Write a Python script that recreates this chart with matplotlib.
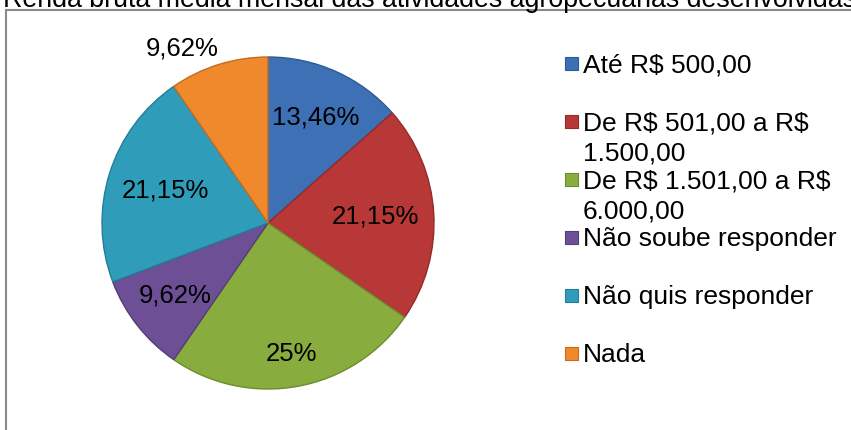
import matplotlib
matplotlib.use('Agg')
import matplotlib.pyplot as plt
import matplotlib.patches as mpatches
import numpy as np

plt.rcParams['font.family'] = ['Liberation Sans', 'DejaVu Sans']
plt.rcParams['text.parse_math'] = False

# dados
categorias = ['Até R$ 500,00',
              'De R$ 501,00 a R$\n1.500,00',
              'De R$ 1.501,00 a R$\n6.000,00',
              'Não soube responder',
              'Não quis responder',
              'Nada']
valores = [13.46, 21.15, 25.0, 9.62, 21.15, 9.62]
rotulos = ['13,46%', '21,15%', '25%', '9,62%', '21,15%', '9,62%']
cores = ['#3D70B5', '#B73836', '#89AC3E', '#6C4F95', '#2F9DBA', '#F0892C']
bordas = ['#2E5A94', '#922B29', '#6E8C2F', '#553D78', '#237E96', '#C46C1F']

W, H = 851, 430
fig = plt.figure(figsize=(W / 100, H / 100), dpi=100)

# moldura (cortada a direita e embaixo)
fig.patches.append(mpatches.Rectangle((6 / W, -0.1), 1.2, (H - 10) / H + 0.1,
                                      transform=fig.transFigure, fill=False,
                                      edgecolor='#8a8a8a', linewidth=1.5))

# titulo (parcialmente cortado no topo)
fig.text(3 / W, (H - 7) / H, 'Renda bruta média mensal das atividades agropecuárias desenvolvidas',
         fontsize=19.3, va='baseline', ha='left')

# pizza
cx, cy, r = 268, 223, 166
lim = 1.02
ax = fig.add_axes([(cx - r * lim) / W, (H - cy - r * lim) / H, 2 * r * lim / W, 2 * r * lim / H])
wedges, _ = ax.pie(valores, colors=cores, startangle=90, counterclock=False,
                   wedgeprops=dict(linewidth=1.0))
for w, ec in zip(wedges, bordas):
    w.set_edgecolor(ec)
ax.set_xlim(-lim, lim)
ax.set_ylim(-lim, lim)
ax.set_aspect('equal')
ax.axis('off')

dist = [0.70, 0.65, 0.80, 0.71, 0.65, 1.17]
desvio = [0, 0, 0, 0, 0, 9]
for w, txt, d, dv in zip(wedges, rotulos, dist, desvio):
    ang = np.deg2rad((w.theta1 + w.theta2) / 2 + dv)
    ax.text(d * np.cos(ang), d * np.sin(ang), txt, fontsize=18.5,
            ha='center', va='center', clip_on=False)

# legenda
y0 = 72
passo = 58
entre_linhas = 30
for i, (cat, cor, ec) in enumerate(zip(categorias, cores, bordas)):
    yb = y0 + i * passo
    fig.patches.append(mpatches.Rectangle((565 / W, (H - yb + 2) / H), 13 / W, 13 / H,
                                          transform=fig.transFigure, facecolor=cor,
                                          edgecolor=ec, linewidth=0.8))
    for k, linha in enumerate(cat.split('\n')):
        fig.text(583 / W, (H - yb - k * entre_linhas) / H, linha, fontsize=19,
                 va='baseline', ha='left')

fig.savefig('out.png', dpi=100)
